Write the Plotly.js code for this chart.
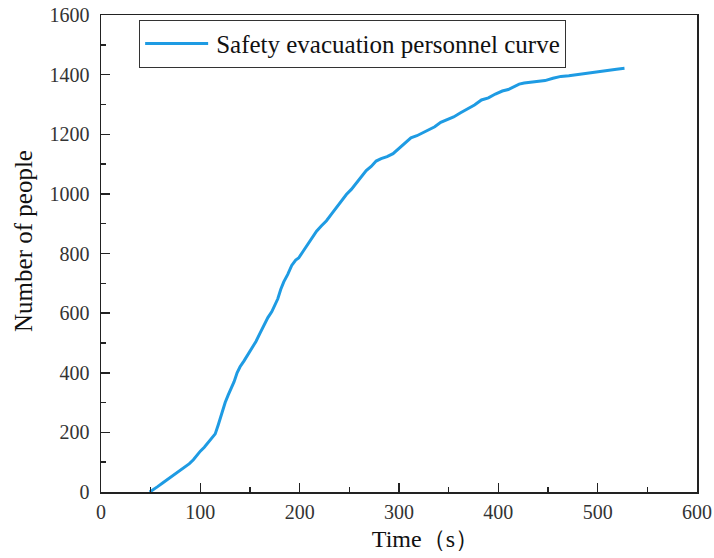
<!DOCTYPE html>
<html>
<head>
<meta charset="utf-8">
<script src="https://cdn.plot.ly/plotly-3.0.1.min.js"></script>
<style>html,body{margin:0;padding:0;background:#fff;}#chart{width:714px;height:558px;}</style>
</head>
<body>
<div id="chart"></div>
<script>
const seriesName = "Safety evacuation personnel curve";
const timeSeconds = [49, 53, 57, 62, 67, 72, 76, 80, 85, 89, 93, 97, 100, 104, 108, 112, 115, 118, 120, 122, 125, 128, 131, 134, 137, 140, 144, 148, 152, 156, 160, 164, 168, 172, 175, 178, 181, 184, 188, 192, 196, 199, 203, 207, 212, 217, 222, 227, 232, 237, 242, 247, 252, 257, 262, 267, 272, 277, 282, 288, 294, 300, 306, 312, 318, 324, 330, 336, 342, 348, 355, 362, 369, 376, 383, 390, 397, 404, 410, 416, 421, 426, 432, 440, 447, 455, 463, 471, 479, 487, 495, 503, 511, 519, 527];
const peopleCount = [0, 8, 18, 30, 42, 55, 65, 75, 84, 95, 108, 125, 137, 150, 165, 180, 195, 225, 248, 268, 300, 325, 345, 370, 400, 420, 440, 462, 485, 505, 532, 560, 585, 605, 625, 648, 680, 705, 730, 760, 778, 785, 805, 825, 850, 875, 893, 910, 932, 955, 975, 998, 1015, 1035, 1058, 1078, 1092, 1110, 1118, 1125, 1135, 1152, 1170, 1188, 1195, 1205, 1215, 1225, 1240, 1248, 1258, 1272, 1285, 1298, 1315, 1322, 1335, 1345, 1350, 1360, 1368, 1372, 1374, 1376, 1380, 1388, 1394, 1396, 1400, 1404, 1407, 1410, 1414, 1418, 1421];
const xTitle = "Time（s）";
const yTitle = "Number of people";

const serif = 'Liberation Serif, Times New Roman, serif';
const axisCommon = {
  showline: true, linecolor: '#222', linewidth: 1.5, mirror: true,
  ticks: 'inside', ticklen: 9, tickwidth: 1.5, tickcolor: '#222',
  showgrid: false, zeroline: false,
  tickfont: {family: serif, size: 20, color: '#333'}
};

Plotly.newPlot('chart', [{
  x: timeSeconds, y: peopleCount, type: 'scatter', mode: 'lines',
  name: seriesName, line: {color: '#1E9BE3', width: 3}
}], {
  width: 714, height: 558,
  font: {family: serif, size: 20, color: '#222'},
  margin: {l: 101, r: 17, t: 15, b: 66},
  paper_bgcolor: '#fff', plot_bgcolor: '#fff',
  showlegend: true,
  legend: {x: 0.064, y: 0.99, xanchor: 'left', yanchor: 'top',
    bordercolor: '#333', borderwidth: 1, bgcolor: '#fff', itemwidth: 66,
    font: {family: serif, size: 25, color: '#111'}},
  xaxis: Object.assign({}, axisCommon, {
    range: [0, 600], dtick: 100, tick0: 0, ticklabelstandoff: 1,
    minor: {dtick: 50, ticks: 'inside', ticklen: 5, tickwidth: 1.5, tickcolor: '#222'},
    title: {text: '\u200b\u2003\u2002\u2002\u2009' + xTitle, font: {family: serif, size: 24, color: '#111'}, standoff: 8}
  }),
  yaxis: Object.assign({}, axisCommon, {
    range: [0, 1600], dtick: 200, tick0: 0, ticklabelstandoff: 6,
    minor: {dtick: 100, ticks: 'inside', ticklen: 5, tickwidth: 1.5, tickcolor: '#222'},
    title: {text: '\u200b\u2003' + yTitle, font: {family: serif, size: 25, color: '#111'}, standoff: 10}
  })
}, {staticPlot: true, displayModeBar: false}).then(function (gd) {
  gd.querySelectorAll('.legendlines path').forEach(function (p) { p.setAttribute('d', 'M5,0h63'); });
});
</script>
</body>
</html>
